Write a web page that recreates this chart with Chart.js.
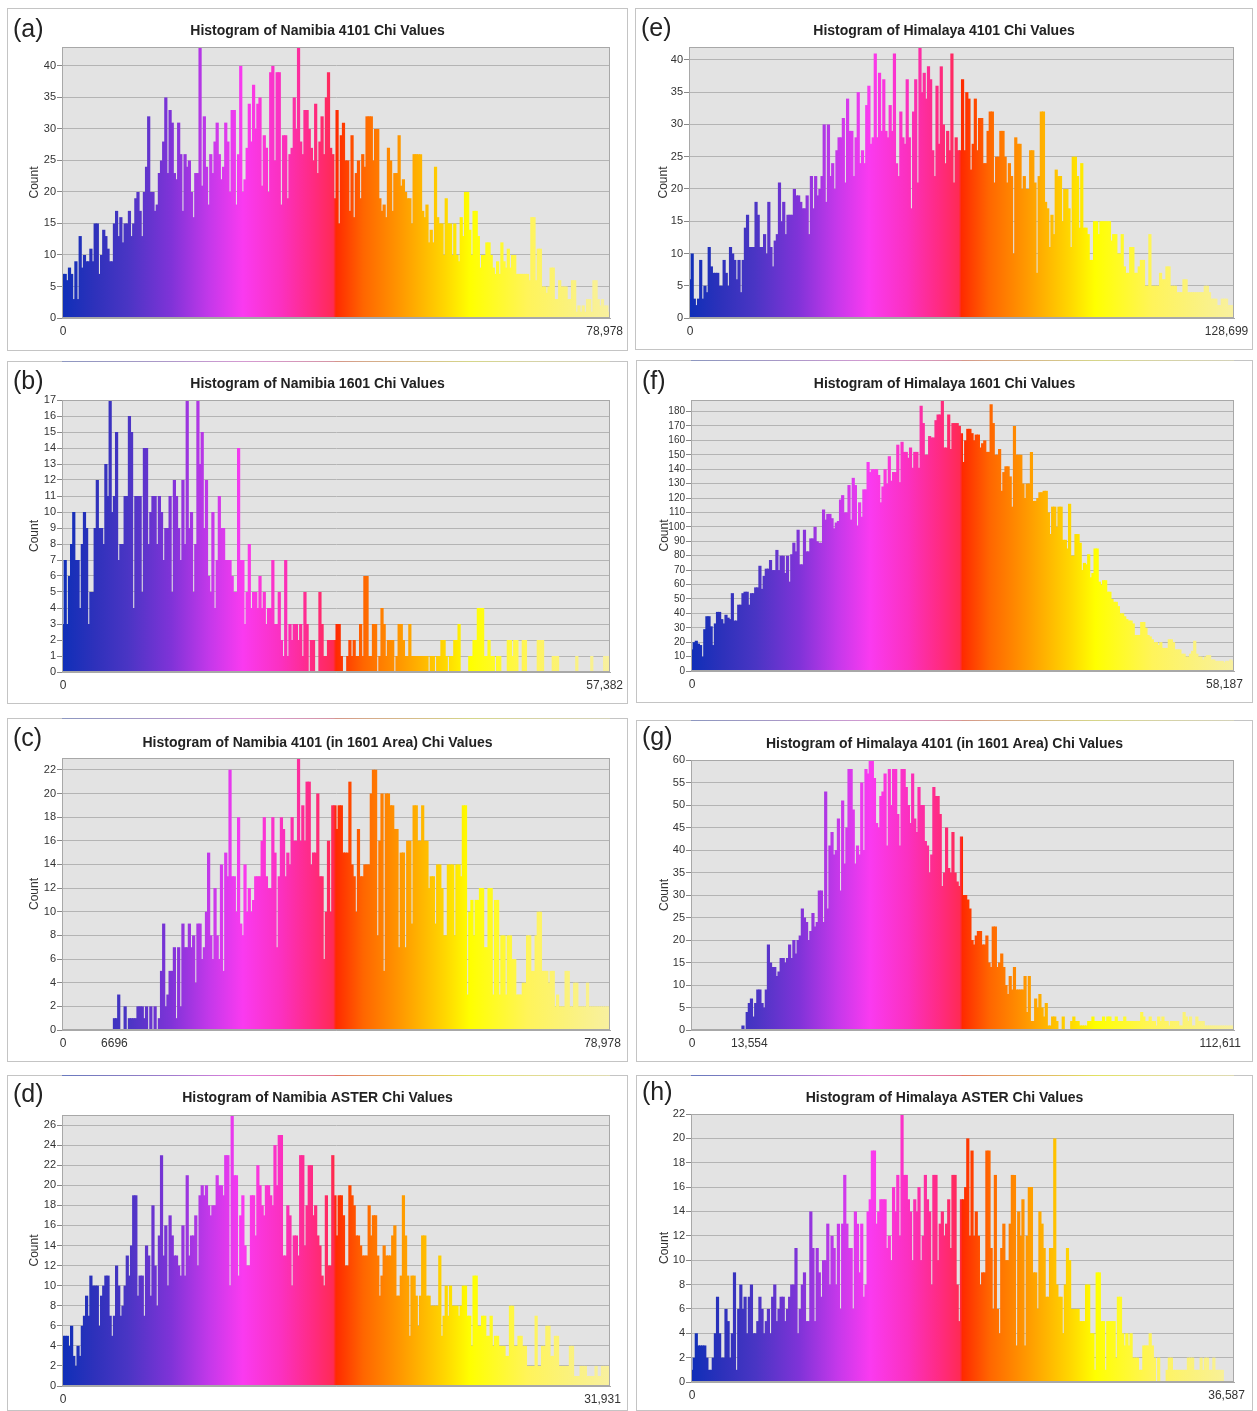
<!DOCTYPE html>
<html>
<head>
<meta charset="utf-8">
<title>Chi value histograms</title>
<script src="https://cdn.jsdelivr.net/npm/chart.js@4/dist/chart.umd.min.js"></script>
<style>
  html, body { margin: 0; padding: 0; background: #fff; }
  body { position: relative; width: 1257px; height: 1411px; overflow: hidden; }
  canvas { position: absolute; filter: blur(0.4px); }
</style>
</head>
<body>
<script>
// counts per histogram bin, 16 bins per row
const namibia4101 = [
  7,7,6,8,7,3,9,3,13,8,10,9,9,11,9,15,
  15,7,10,14,13,11,9,9,15,17,13,16,12,15,15,17,
  13,15,19,20,17,13,20,24,32,20,20,17,18,23,25,28,
  35,23,33,31,23,22,31,26,17,26,24,25,20,16,23,23,
  43,21,32,24,18,26,23,28,31,26,22,24,31,28,20,33,
  33,18,26,40,20,22,27,34,28,37,30,34,35,21,29,27,
  20,39,40,25,39,39,18,29,29,19,26,27,35,30,43,28,
  26,33,33,30,27,25,34,23,28,32,26,35,39,27,26,19,
  33,15,29,31,25,25,17,29,16,23,25,19,26,24,32,32,
  32,25,30,30,19,17,18,16,27,25,17,23,23,29,21,22,
  20,19,19,15,26,26,26,26,17,16,18,12,14,12,24,16,
  15,15,10,19,15,15,10,15,10,9,16,13,20,20,14,10,
  17,17,13,8,10,10,12,12,10,8,7,9,7,12,9,8,
  11,8,10,10,7,7,7,7,7,7,6,16,16,6,11,11,
  5,5,4,5,8,8,3,3,6,5,5,5,3,3,6,6,
  1,2,1,2,1,3,3,1,6,6,3,2,3,2,2,1
];
const namibia1601 = [
  3,7,3,6,8,10,7,7,4,8,10,9,3,5,5,9,
  12,9,9,8,13,11,17,10,11,15,7,8,8,11,11,16,
  15,4,11,11,11,5,14,14,8,10,11,11,8,11,10,7,
  9,9,11,5,12,11,9,7,12,8,17,9,10,5,8,17,
  13,15,9,12,6,5,10,4,7,11,9,9,7,7,7,6,
  5,5,14,7,7,3,5,8,4,5,5,4,6,4,5,3,
  4,4,7,3,3,5,2,1,7,1,3,2,3,3,2,3,
  1,5,3,0,2,2,0,0,5,3,1,1,2,2,2,2,
  3,3,1,0,0,1,2,1,2,1,1,3,1,6,6,1,
  1,3,3,0,1,4,3,1,2,2,2,0,1,3,3,2,
  1,1,3,1,1,1,1,1,1,1,1,0,1,1,0,1,
  1,2,2,1,0,1,1,2,2,3,0,0,0,0,1,1,
  2,2,4,4,4,1,1,2,1,1,0,1,1,0,0,0,
  2,2,1,2,2,0,0,2,2,0,0,0,0,0,2,2,
  2,0,0,0,0,1,1,1,0,0,0,0,0,0,0,0,
  1,0,0,0,0,0,0,1,0,0,0,0,0,1,1,1
];
const namibia4101In1601 = [
  0,0,0,0,0,0,0,0,0,0,0,0,0,0,0,0,
  0,0,0,0,0,0,0,0,1,1,3,0,0,2,0,1,
  1,1,1,2,2,2,1,2,0,2,0,2,0,1,5,9,
  2,3,5,5,7,1,7,2,9,7,7,9,7,8,4,9,
  9,6,7,10,15,8,6,12,8,6,14,5,15,13,22,13,
  13,10,18,9,8,14,10,12,10,11,13,13,13,16,18,13,
  12,12,18,15,7,13,18,17,13,15,14,18,16,16,23,16,
  19,16,21,21,14,15,15,20,13,13,6,10,16,10,19,19,
  17,19,19,15,15,15,21,14,13,10,17,13,13,14,14,14,
  20,22,22,8,16,20,5,20,20,19,19,17,17,7,15,15,
  7,16,16,9,19,19,16,16,19,16,16,12,13,13,9,14,
  14,12,8,8,14,14,14,8,14,14,13,19,19,3,10,11,
  8,11,11,12,12,7,7,12,12,3,11,11,3,8,8,3,
  8,8,6,6,3,3,3,4,4,8,8,5,5,8,10,10,
  5,5,5,4,5,5,2,3,2,2,2,5,5,2,2,4,
  4,2,2,2,2,4,2,2,2,2,2,2,2,2,2,2
];
const namibiaAster = [
  5,5,5,4,6,3,2,4,3,6,7,9,7,11,10,10,
  10,6,9,10,11,11,7,5,7,12,10,7,8,10,13,11,
  14,19,19,9,11,11,7,14,13,9,18,12,8,15,23,13,
  16,10,17,15,13,13,12,11,16,11,21,13,15,15,17,12,
  19,20,19,20,18,17,18,18,21,20,20,19,23,23,10,27,
  21,21,11,17,19,14,12,12,19,19,15,22,20,18,17,20,
  20,19,18,24,20,25,25,13,13,18,17,10,15,15,13,23,
  23,14,18,22,22,17,18,15,14,11,10,19,12,12,23,19,
  15,19,19,17,12,12,20,19,18,15,15,14,13,13,13,18,
  15,17,17,13,9,11,14,13,13,13,15,16,9,9,11,19,
  15,11,5,11,11,9,6,9,15,15,9,9,8,8,8,8,
  13,5,7,10,7,10,8,8,8,7,8,10,10,7,7,4,
  11,11,6,6,7,7,5,5,7,4,5,5,4,4,4,3,
  3,8,8,4,4,5,5,4,4,2,2,2,2,7,2,2,
  4,4,6,6,3,3,5,5,2,2,2,2,2,4,4,1,
  1,1,2,2,2,1,1,1,1,2,1,1,2,2,2,2
];
const himalaya4101 = [
  6,10,3,2,3,9,3,5,4,11,8,7,7,7,5,5,
  9,7,5,11,10,9,6,9,4,9,14,16,11,11,11,18,
  16,11,11,13,10,18,11,8,12,13,21,15,18,13,16,16,
  16,20,19,19,18,17,17,19,13,22,17,22,19,20,22,30,
  18,30,22,24,20,26,28,28,31,21,34,29,29,22,28,35,
  24,26,24,33,36,27,28,41,28,38,29,37,29,28,33,29,
  41,24,22,32,28,27,37,28,17,32,37,21,42,35,38,34,
  39,37,26,22,36,27,39,30,24,29,26,41,21,28,26,26,
  37,26,35,34,23,27,34,26,31,31,24,24,29,32,32,21,
  25,25,29,29,25,21,24,22,10,28,27,27,20,22,20,20,
  26,26,21,7,22,32,32,18,17,11,16,13,23,22,22,15,
  20,20,17,11,25,25,22,14,24,14,14,13,9,9,15,15,
  13,15,15,15,15,15,12,13,13,10,10,13,8,7,7,11,
  11,7,7,8,9,9,5,5,13,5,5,5,5,7,6,6,
  8,8,5,5,5,4,4,4,6,6,4,4,4,4,4,4,
  4,4,5,5,4,3,3,3,2,2,3,3,3,2,2,2
];
const himalaya1601 = [
  15,20,21,19,18,10,29,38,38,31,18,33,41,41,36,33,
  39,37,36,54,35,35,46,46,54,55,55,46,54,54,58,58,
  73,57,66,71,71,77,70,70,84,70,80,80,68,80,62,81,
  89,83,98,74,74,98,83,83,92,92,100,90,89,89,112,105,
  109,109,106,99,103,104,119,122,110,110,129,105,134,129,101,117,
  107,126,126,145,138,140,140,140,136,117,128,140,130,149,132,138,
  138,157,131,159,152,152,148,155,141,152,152,141,184,172,150,150,
  163,162,162,174,178,178,188,155,155,178,154,172,172,172,170,165,
  145,160,168,168,165,160,164,164,155,158,160,152,152,185,172,150,
  150,154,125,138,142,142,135,114,170,150,150,150,130,120,130,130,
  152,118,118,120,124,124,125,125,110,95,114,114,100,114,114,91,
  91,85,116,80,80,95,95,89,70,75,74,81,65,68,85,85,
  62,60,63,63,55,55,50,48,48,45,40,40,38,36,35,35,
  33,25,25,25,34,34,30,25,24,22,20,20,18,20,16,16,
  16,22,22,20,15,15,15,12,12,10,10,12,14,21,12,10,
  10,8,10,11,11,8,8,7,7,7,7,6,7,7,8,7
];
const himalaya4101In1601 = [
  0,0,0,0,0,0,0,0,0,0,0,0,0,0,0,0,
  0,0,0,0,0,0,0,0,1,0,4,6,7,3,6,9,
  9,6,5,9,19,15,14,14,12,13,16,16,15,16,19,16,
  20,17,20,21,27,25,24,20,22,26,23,24,31,31,24,53,
  27,41,44,39,40,47,31,51,37,45,58,58,49,37,41,39,
  55,40,58,57,60,60,56,46,45,52,53,57,41,58,50,58,
  58,48,41,58,58,54,50,46,57,47,44,54,50,50,42,41,
  35,39,54,52,52,48,32,35,45,36,35,44,35,33,32,43,
  30,30,29,27,20,19,21,22,22,19,19,21,15,14,23,23,
  14,15,17,14,10,8,12,9,14,9,9,9,9,12,4,12,
  2,2,7,5,8,5,3,6,1,1,3,3,2,0,0,3,
  0,0,0,2,3,2,2,1,1,1,1,2,2,3,2,2,
  2,2,3,2,3,3,2,2,3,2,2,2,3,2,2,2,
  2,2,2,2,4,3,2,2,3,2,2,1,3,2,3,2,
  2,1,2,2,2,2,1,1,4,3,2,3,1,1,3,2,
  2,2,1,1,1,1,1,1,1,1,1,1,1,1,1,1
];
const himalayaAster = [
  1,2,4,3,3,3,3,2,1,1,2,4,7,4,2,2,
  6,5,2,4,9,1,6,8,6,7,4,7,8,4,4,5,
  7,6,4,5,6,4,7,8,5,6,7,7,5,6,7,8,
  8,11,4,6,8,9,5,5,14,11,5,11,9,7,10,10,
  13,8,12,11,8,13,6,13,17,13,11,11,6,14,13,9,
  13,7,8,14,15,19,19,13,14,15,15,15,11,12,10,16,
  14,17,12,22,17,17,15,14,10,15,14,16,10,12,17,15,
  14,8,17,17,10,13,14,12,13,15,11,17,17,8,5,15,
  15,16,20,12,19,12,14,12,8,9,9,19,19,11,6,17,
  6,4,11,13,10,10,13,17,17,3,14,12,15,3,12,16,
  16,9,9,6,14,13,11,7,7,11,11,20,8,7,7,4,
  8,11,10,6,6,6,6,5,5,5,8,8,4,4,1,9,
  9,5,5,1,5,5,5,5,2,7,7,4,3,4,3,4,
  2,2,2,1,1,3,3,3,4,3,2,0,2,0,0,0,
  1,2,2,1,1,1,1,1,1,1,2,2,2,1,1,1,
  2,1,2,2,1,1,2,1,1,1,1,0,0,0,0,0
];

const BIN_COUNT = 256;

// colour ramp across the plot width
const rampStops = [
  [0, "#0f2fb8"], [0.06, "#2e31bb"], [0.12, "#4a35c4"], [0.2, "#8033d8"],
  [0.27, "#c538ea"], [0.33, "#fa3af0"], [0.4, "#fb30c0"], [0.46, "#ff2a80"],
  [0.495, "#ff2a55"], [0.5, "#ff2a00"], [0.55, "#ff6600"], [0.62, "#ff9a00"],
  [0.7, "#ffd800"], [0.745, "#ffff00"], [0.85, "#fff45a"], [0.92, "#fbf27a"], [1, "#f8f0a0"],
];

const panels = [
  { tag: "(a)", title: "Histogram of Namibia 4101 Chi Values", data: namibia4101, yMax: 43, step: 5,
    xTicks: { 0: "0", 253: "78,978" }, frame: [7, 8, 621, 343], plot: [62, 47, 610, 318],
    titleY: 23, tagY: 29, edgeAlpha: 0, tickSize: 11 },
  { tag: "(b)", title: "Histogram of Namibia 1601 Chi Values", data: namibia1601, yMax: 17, step: 1,
    xTicks: { 0: "0", 253: "57,382" }, frame: [7, 361, 621, 343], plot: [62, 400, 610, 672],
    titleY: 23, tagY: 28, edgeAlpha: 0.3, tickSize: 11 },
  { tag: "(c)", title: "Histogram of Namibia 4101 (in 1601 Area) Chi Values", data: namibia4101In1601, yMax: 23, step: 2,
    xTicks: { 0: "0", 24: "6696", 252: "78,978" }, frame: [7, 718, 621, 344], plot: [62, 758, 610, 1030],
    titleY: 25, tagY: 28, edgeAlpha: 0.3, tickSize: 11 },
  { tag: "(d)", title: "Histogram of Namibia ASTER Chi Values", data: namibiaAster, yMax: 27, step: 2,
    xTicks: { 0: "0", 252: "31,931" }, frame: [7, 1075, 621, 336], plot: [62, 1115, 610, 1386],
    titleY: 23, tagY: 27, edgeAlpha: 0.5, tickSize: 11 },
  { tag: "(e)", title: "Histogram of Himalaya 4101 Chi Values", data: himalaya4101, yMax: 42, step: 5,
    xTicks: { 0: "0", 252: "128,699" }, frame: [635, 8, 618, 342], plot: [689, 47, 1234, 318],
    titleY: 23, tagY: 28, edgeAlpha: 0, tickSize: 11 },
  { tag: "(f)", title: "Histogram of Himalaya 1601 Chi Values", data: himalaya1601, yMax: 188, step: 10,
    xTicks: { 0: "0", 251: "58,187" }, frame: [636, 360, 617, 343], plot: [691, 400, 1234, 671],
    titleY: 24, tagY: 29, edgeAlpha: 0.3, tickSize: 10 },
  { tag: "(g)", title: "Histogram of Himalaya 4101 (in 1601 Area) Chi Values", data: himalaya4101In1601, yMax: 60, step: 5,
    xTicks: { 0: "0", 27: "13,554", 249: "112,611" }, frame: [636, 720, 617, 342], plot: [691, 760, 1234, 1030],
    titleY: 24, tagY: 25, edgeAlpha: 0.3, tickSize: 11 },
  { tag: "(h)", title: "Histogram of Himalaya ASTER Chi Values", data: himalayaAster, yMax: 22, step: 2,
    xTicks: { 0: "0", 252: "36,587" }, frame: [636, 1075, 617, 336], plot: [691, 1114, 1234, 1382],
    titleY: 23, tagY: 25, edgeAlpha: 0.5, tickSize: 11 },
];

function rampGradient(ctx, area) {
  const g = ctx.createLinearGradient(area.left, 0, area.right, 0);
  rampStops.forEach(([at, color]) => g.addColorStop(at, color));
  return g;
}

// grey plot background, plot outline, panel frame and the (a) style tag
const panelDecor = {
  id: "panelDecor",
  beforeDraw(chart, args, opts) {
    const { ctx, chartArea: a, width, height } = chart;
    ctx.save();
    ctx.fillStyle = "#fff";
    ctx.fillRect(0, 0, width, height);
    ctx.strokeStyle = "#c4c4c4";
    ctx.strokeRect(0.5, 0.5, width - 1, height - 1);
    // faint coloured bleed along the top edge of the lower panels
    if (opts.edgeAlpha) {
      ctx.globalAlpha = opts.edgeAlpha;
      ctx.fillStyle = rampGradient(ctx, a);
      ctx.fillRect(a.left, 0, a.right - a.left, 1);
      ctx.globalAlpha = 1;
    }
    ctx.fillStyle = "#e3e3e3";
    ctx.fillRect(a.left, a.top, a.right - a.left, a.bottom - a.top);
    ctx.fillStyle = "#222";
    ctx.font = "25px 'Liberation Sans'";
    ctx.textBaseline = "alphabetic";
    ctx.fillText(opts.tag, 6, opts.tagY);
    ctx.restore();
  },
  afterDatasetsDraw(chart) {
    const { ctx, chartArea: a } = chart;
    ctx.save();
    ctx.strokeStyle = "#a8a8a8";
    ctx.strokeRect(a.left + 0.5, a.top + 0.5, a.right - a.left - 1, a.bottom - a.top - 1);
    ctx.restore();
  },
};

function rampFill(context) {
  const { ctx, chartArea } = context.chart;
  if (!chartArea) return "#888";
  return rampGradient(ctx, chartArea);
}

panels.forEach((p) => {
  const [fx, fy, fw, fh] = p.frame;
  const [pl, pt, pr, pb] = p.plot;
  const sidePad = fx + fw - pr; // same on both sides so the title centres on the frame
  const titleTop = p.titleY - 8;

  const canvas = document.createElement("canvas");
  canvas.width = fw;
  canvas.height = fh;
  canvas.style.left = fx + "px";
  canvas.style.top = fy + "px";
  canvas.style.width = fw + "px";
  canvas.style.height = fh + "px";
  document.body.appendChild(canvas);

  const labels = Array.from({ length: BIN_COUNT }, (_, i) => p.xTicks[i] || "");

  new Chart(canvas, {
    type: "bar",
    data: {
      labels,
      datasets: [{
        data: p.data,
        backgroundColor: rampFill,
        borderWidth: 0,
        barPercentage: 1.5,
        categoryPercentage: 1,
      }],
    },
    plugins: [panelDecor],
    options: {
      responsive: false,
      animation: false,
      layout: { padding: { left: sidePad, right: sidePad, top: 0, bottom: 0 } },
      plugins: {
        legend: { display: false },
        tooltip: { enabled: false },
        panelDecor: { tag: p.tag, tagY: p.tagY, edgeAlpha: p.edgeAlpha },
        title: {
          display: true,
          text: p.title,
          color: "#222",
          font: { family: "'Liberation Sans'", size: 14, weight: "bold", lineHeight: "16px" },
          padding: { top: titleTop, bottom: pt - fy - titleTop - 16 },
        },
      },
      scales: {
        x: {
          type: "category",
          grid: { display: false, drawTicks: false },
          border: { display: true, color: "#a8a8a8" },
          afterFit: (s) => { s.height = fy + fh - pb; },
          ticks: {
            autoSkip: false,
            maxRotation: 0,
            minRotation: 0,
            padding: 6,
            color: "#333",
            font: { family: "'Liberation Sans'", size: 12 },
            callback: (v, i) => labels[i],
          },
        },
        y: {
          min: 0,
          max: p.yMax,
          grid: { color: "#b4b4b4", tickLength: 5, tickColor: "#888" },
          border: { display: true, color: "#a8a8a8" },
          afterFit: (s) => { s.width = pl - fx - sidePad; },
          title: {
            display: true,
            text: "Count",
            color: "#333",
            font: { family: "'Liberation Sans'", size: 12 },
            padding: { top: 2, bottom: 0 },
          },
          ticks: {
            stepSize: p.step,
            includeBounds: false,
            autoSkip: false,
            padding: 1,
            color: "#333",
            font: { family: "'Liberation Sans'", size: p.tickSize },
          },
        },
      },
    },
  });
});
</script>
</body>
</html>
